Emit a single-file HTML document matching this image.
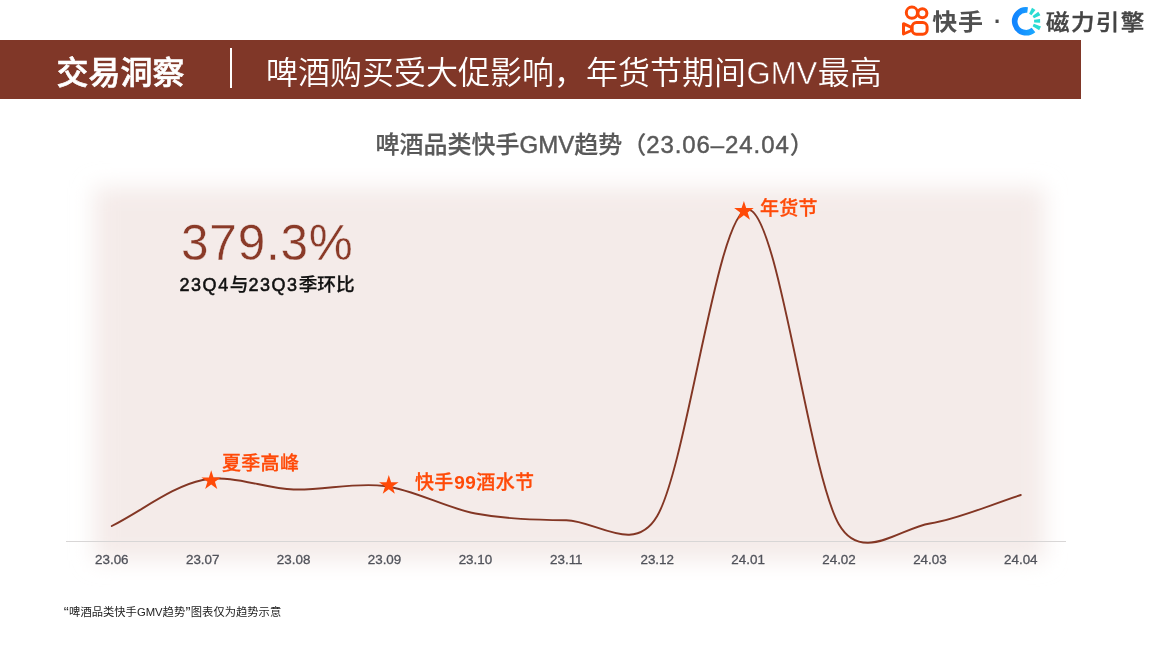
<!DOCTYPE html>
<html lang="zh-CN">
<head>
<meta charset="utf-8">
<title>交易洞察</title>
<style>
html,body{margin:0;padding:0;background:#fff;}
body{width:1152px;height:648px;position:relative;overflow:hidden;font-family:"Liberation Sans","Noto Sans CJK SC",sans-serif;}
.abs{position:absolute;white-space:nowrap;}
#bar{left:0;top:40px;width:1081px;height:59px;background:#803728;}
#t1{left:56.5px;top:49px;height:48px;line-height:48px;font-size:32px;font-weight:500;-webkit-text-stroke:.6px #fff;color:#fff;font-family:"Liberation Sans","Noto Sans CJK SC",sans-serif;}
#div{left:229.7px;top:48px;width:1.9px;height:40px;background:#fff;}
#t2{left:266px;top:49px;height:48px;line-height:48px;font-size:32px;font-weight:350;color:#fff;font-family:"Liberation Sans","Noto Sans CJK SC",sans-serif;}
#ct{left:375.6px;top:127.5px;-webkit-text-stroke:.2px #595959;height:34px;line-height:34px;font-size:24px;font-weight:500;color:#595959;}
#big{left:181px;top:214px;height:58px;line-height:58px;font-size:49.5px;letter-spacing:.8px;color:#8A3A28;-webkit-text-stroke:.4px #F4EBE9;}
#sub{left:179.5px;top:272px;height:26px;line-height:26px;font-size:18.67px;font-weight:500;color:#111;}
#sub{-webkit-text-stroke:.25px #111;}
#sub span{font-size:18px;letter-spacing:1.55px;-webkit-text-stroke:.55px #111;}
.lt{-webkit-text-stroke:.45px #595959;}
.ol{letter-spacing:.3px;color:#FF4A08;font-weight:500;-webkit-text-stroke:.28px #FF4A08;font-size:19px;height:26px;line-height:26px;}
#fn{left:63.5px;top:604px;height:16px;line-height:16px;font-size:11.3px;color:#222;}
#fn .q{font-size:15px;line-height:0;vertical-align:-1.2px;margin:0 .3px;}
#ks{left:932.3px;top:4.2px;height:32px;line-height:32px;font-size:25px;letter-spacing:.7px;color:#505050;font-weight:700;transform:scaleY(.92);transform-origin:0 100%;font-family:"Liberation Sans","Noto Sans CJK SC",sans-serif;}
#dot{left:991.8px;top:3px;height:32px;line-height:32px;font-size:32px;color:#4a4a4a;font-family:"Liberation Sans","Noto Sans CJK SC",sans-serif;}
#cl{left:1046px;top:4.5px;height:32px;line-height:32px;font-size:23.5px;letter-spacing:1.4px;color:#444;font-weight:500;-webkit-text-stroke:.45px #444;transform:scaleY(.9);transform-origin:0 100%;font-family:"Liberation Sans","Noto Sans CJK SC",sans-serif;}
svg{position:absolute;left:0;top:0;}
</style>
</head>
<body>
<svg width="1152" height="648" viewBox="0 0 1152 648">
<defs>
<filter id="bl" x="-10%" y="-10%" width="120%" height="120%"><feGaussianBlur stdDeviation="11"/></filter>
<linearGradient id="cg" x1="0" y1="0" x2="1" y2="0"><stop offset="0" stop-color="#1285FF"/><stop offset="1" stop-color="#1AA6FF"/></linearGradient>
</defs>
<rect x="94" y="187.5" width="950.5" height="373" fill="#F4EBE9" filter="url(#bl)"/>
<rect x="66" y="541" width="1000" height="1" fill="#D8D6D6"/>
<path d="M111.8 526.0 C142.1 510.7 172.4 486.1 202.7 480.0 C233.0 473.9 263.3 488.5 293.6 489.5 C323.9 490.5 354.2 482.0 384.5 486.0 C414.8 490.0 445.1 507.8 475.4 513.5 C505.7 519.2 536.0 519.8 566.3 520.2 C596.6 520.6 634.2 555.3 657.2 516.0 C687.5 464.2 717.8 208.1 748.1 209.5 C778.4 210.9 808.7 472.2 839.0 524.5 C861.8 563.8 899.6 528.4 929.9 523.5 C960.2 518.6 990.5 504.5 1020.8 495.0" fill="none" stroke="#833624" stroke-width="1.9" stroke-linecap="round" stroke-linejoin="round"/>
<polygon points="211.20,470.30 213.51,477.42 221.00,477.42 214.94,481.82 217.25,488.93 211.20,484.53 205.15,488.93 207.46,481.82 201.40,477.42 208.89,477.42" fill="#FF4A08"/>
<polygon points="388.80,475.10 391.11,482.22 398.60,482.22 392.54,486.62 394.85,493.73 388.80,489.33 382.75,493.73 385.06,486.62 379.00,482.22 386.49,482.22" fill="#FF4A08"/>
<polygon points="743.90,201.00 746.21,208.12 753.70,208.12 747.64,212.52 749.95,219.63 743.90,215.23 737.85,219.63 740.16,212.52 734.10,208.12 741.59,208.12" fill="#FF4A08"/>
<g font-family="Liberation Sans, sans-serif" font-size="13.4" fill="#50525a" stroke="#50525a" stroke-width=".3" text-anchor="middle"><text x="111.8" y="564.2">23.06</text><text x="202.7" y="564.2">23.07</text><text x="293.6" y="564.2">23.08</text><text x="384.5" y="564.2">23.09</text><text x="475.4" y="564.2">23.10</text><text x="566.3" y="564.2">23.11</text><text x="657.2" y="564.2">23.12</text><text x="748.1" y="564.2">24.01</text><text x="839.0" y="564.2">24.02</text><text x="929.9" y="564.2">24.03</text><text x="1020.8" y="564.2">24.04</text></g>
<!-- kuaishou logo -->
<g fill="none" stroke="#FF4906" stroke-width="3" stroke-linejoin="round">
<circle cx="911.9" cy="12.7" r="5.6"/>
<circle cx="922.4" cy="13.3" r="4.5"/>
<rect x="912.15" y="22.5" width="14.95" height="11.8" rx="4.3"/>
<path d="M903.5 23.7 L911.4 27.3 L911.4 30.5 L903.5 34 Z"/>
</g>
<!-- cili logo -->
<path d="M1027.6 10 A11.4 11.4 0 1 0 1033.5 30" fill="none" stroke="url(#cg)" stroke-width="5.6"/>
<g fill="#2ADBD3"><polygon points="1031.43,15.18 1035.43,9.90 1032.02,7.81 1029.13,13.77"/><polygon points="1033.94,18.25 1040.43,15.29 1038.30,11.67 1032.57,15.92"/><polygon points="1034.14,22.48 1040.15,22.81 1040.04,19.01 1034.06,19.68"/><polygon points="1032.62,26.13 1039.16,30.25 1041.02,26.60 1033.84,23.73"/></g>
</svg>
<div class="abs" id="bar"></div>
<div class="abs" id="t1">交易洞察</div>
<div class="abs" id="div"></div>
<div class="abs" id="t2">啤酒购买受大促影响，年货节期间<span style="font-size:31px;-webkit-text-stroke:.5px #803728;margin:0 .6px">GMV</span>最高</div>
<div class="abs" id="ct">啤酒品类快手<span class="lt">GMV</span>趋势（<span class="lt" style="letter-spacing:.9px">23.06–24.04</span>）</div>
<div class="abs" id="big">379.3%</div>
<div class="abs" id="sub"><span>23Q4</span>与<span>23Q3</span>季环比</div>
<div class="abs ol" style="left:222px;top:451px;">夏季高峰</div>
<div class="abs ol" style="left:415px;top:469.6px;">快手<span style="font-weight:700;-webkit-text-stroke:0;letter-spacing:.5px;margin-left:.6px">99</span>酒水节</div>
<div class="abs ol" style="left:760px;top:196.4px;">年货节</div>
<div class="abs" id="fn"><span class="q">“</span>啤酒品类快手GMV趋势<span class="q">”</span>图表仅为趋势示意</div>
<div class="abs" id="ks">快手</div>
<div class="abs" id="dot">·</div>
<div class="abs" id="cl">磁力引擎</div>
</body>
</html>
